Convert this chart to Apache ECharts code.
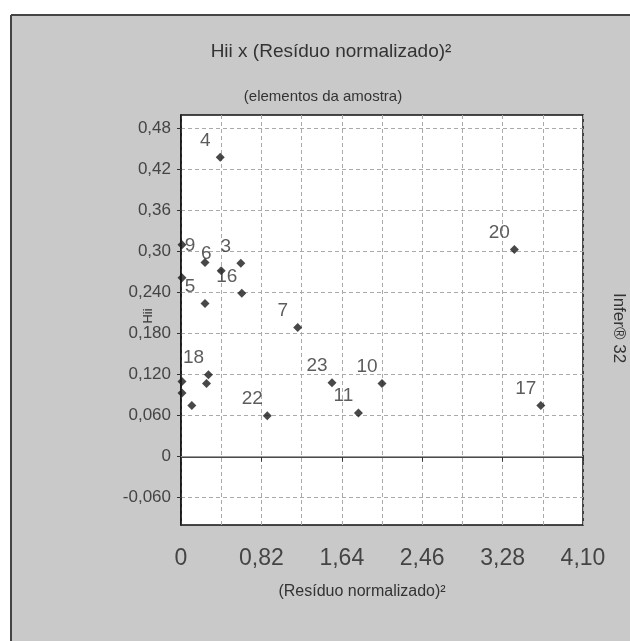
<!DOCTYPE html>
<html>
<head>
<meta charset="utf-8">
<script src="https://cdn.jsdelivr.net/npm/echarts@6/dist/echarts.min.js"></script>
<style>
    html, body { margin: 0; padding: 0; background: #fff; }
    #chart { width: 630px; height: 641px; }
</style>
</head>
<body>
<div id="chart"></div>
<script>
// pontos da amostra (rótulo vazio = rótulo cortado no original)
var pointNames = ['4', '9', '6', '3', '16', '5', '7', '18', '', '', '23', '10', '11', '22', '20', '17', '', '', '', ''];
var residuo = [0.40, 0.245, 0.41, 0.61, 0.62, 0.245, 1.19, 0.28, 0.26, 0.11, 1.54, 2.05, 1.81, 0.88, 3.40, 3.67, 0.01, 0.01, 0.01, 0.01];
var hii = [0.438, 0.284, 0.272, 0.283, 0.239, 0.224, 0.189, 0.120, 0.107, 0.075, 0.108, 0.107, 0.064, 0.060, 0.303, 0.075, 0.310, 0.262, 0.110, 0.093];

// eixos
var xTickLabels = ['0', '0,82', '1,64', '2,46', '3,28', '4,10'];
var yTickValues = [-0.06, 0, 0.06, 0.12, 0.18, 0.24, 0.30, 0.36, 0.42, 0.48];
var yTickLabels = ['-0,060', '0', '0,060', '0,120', '0,180', '0,240', '0,30', '0,36', '0,42', '0,48'];

var font = '"Liberation Sans", Arial, sans-serif';

var seriesData = residuo.map(function (x, i) {
    return { name: pointNames[i], value: [x, hii[i]] };
});

var chart = echarts.init(document.getElementById('chart'));

chart.setOption({
    backgroundColor: '#c9c9c9',
    animation: false,
    title: [
        {
            text: 'Hii x (Resíduo normalizado)²',
            left: 326, top: 37, textAlign: 'center',
            textStyle: { fontFamily: font, fontSize: 19, fontWeight: 'normal', color: '#333' }
        },
        {
            text: '(elementos da amostra)',
            left: 318, top: 84, textAlign: 'center',
            textStyle: { fontFamily: font, fontSize: 15, fontWeight: 'normal', color: '#333' }
        }
    ],
    graphic: [
        // moldura
        { type: 'rect', shape: { x: 0, y: 0, width: 630, height: 15 }, style: { fill: '#fff' }, silent: true },
        { type: 'rect', shape: { x: 0, y: 0, width: 11, height: 641 }, style: { fill: '#fff' }, silent: true },
        { type: 'line', shape: { x1: 11, y1: 15, x2: 630, y2: 15 }, style: { stroke: '#444', lineWidth: 2 }, silent: true },
        { type: 'line', shape: { x1: 11, y1: 15, x2: 11, y2: 641 }, style: { stroke: '#444', lineWidth: 2 }, silent: true },
        {
            type: 'text', x: 148, y: 316, rotation: Math.PI / 2,
            style: { text: 'Hii', font: '13px ' + font, fill: '#333', align: 'center', verticalAlign: 'middle' }
        },
        {
            type: 'text', x: 362, y: 592,
            style: { text: '(Resíduo normalizado)²', font: '16px ' + font, fill: '#333', align: 'center', verticalAlign: 'middle' }
        },
        {
            type: 'text', x: 619, y: 328, rotation: -Math.PI / 2,
            style: { text: 'Infer® 32', font: '17px ' + font, fill: '#333', align: 'center', verticalAlign: 'middle' }
        }
    ],
    grid: {
        left: 181, top: 115, width: 402, height: 410,
        show: true,
        backgroundColor: '#fff',
        borderColor: '#111',
        borderWidth: 1.5
    },
    xAxis: {
        type: 'value',
        min: 0, max: 4.1, interval: 0.82,
        axisLine: { show: true, lineStyle: { color: '#111', width: 1.5 } },
        axisTick: { show: true, length: 5, lineStyle: { color: '#333' } },
        minorTick: { show: false, splitNumber: 2 },
        axisLabel: {
            margin: 22,
            fontFamily: font, fontSize: 23, color: '#444',
            formatter: function (v) { return xTickLabels[Math.round(v / 0.82)]; }
        },
        splitLine: { show: true, lineStyle: { color: '#aaa', type: [4, 3] } },
        minorSplitLine: { show: true, lineStyle: { color: '#aaa', type: [4, 3] } }
    },
    yAxis: {
        type: 'value',
        min: -0.1, max: 0.5,
        axisLine: { show: true, lineStyle: { color: '#111', width: 1.5 } },
        axisTick: { show: true, length: 4, customValues: yTickValues, lineStyle: { color: '#333' } },
        axisLabel: {
            margin: 10,
            customValues: yTickValues,
            fontFamily: font, fontSize: 17, color: '#444',
            formatter: function (v) {
                var best = 0;
                yTickValues.forEach(function (t, i) {
                    if (Math.abs(t - v) < Math.abs(yTickValues[best] - v)) best = i;
                });
                return yTickLabels[best];
            }
        },
        splitLine: { show: true, lineStyle: { color: '#aaa', type: [4, 3] } }
    },
    series: [
        {
            type: 'scatter',
            symbol: 'diamond',
            symbolSize: 9,
            itemStyle: { color: '#1a1a1a' },
            data: seriesData,
            label: {
                show: true,
                position: 'inside',
                offset: [-15, -17],
                formatter: '{b}',
                fontFamily: font, fontSize: 19, color: '#333'
            },
            markLine: {
                silent: true,
                symbol: 'none',
                label: { show: false },
                lineStyle: { color: '#999', type: 'solid', width: 1 },
                data: [{ yAxis: 0 }]
            }
        }
    ]
});
</script>
</body>
</html>
